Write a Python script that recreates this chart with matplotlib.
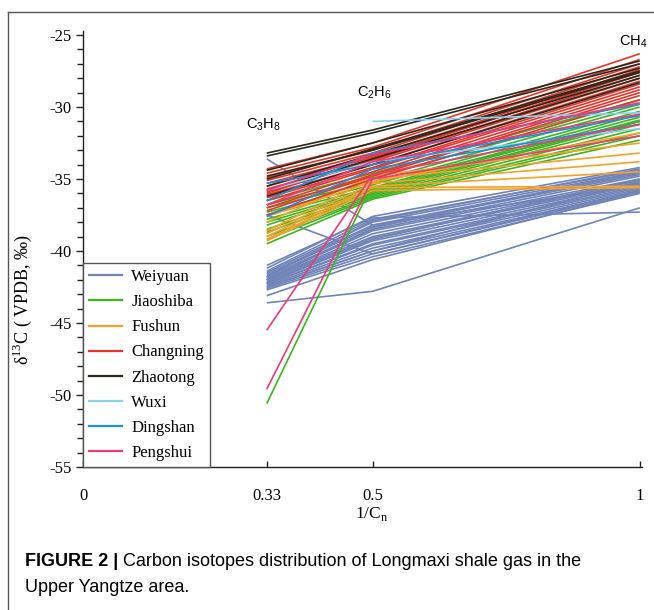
import numpy as np
import matplotlib
matplotlib.use("Agg")
import matplotlib.pyplot as plt
from matplotlib.lines import Line2D
from matplotlib.ticker import MultipleLocator

plt.rcParams['axes.unicode_minus'] = False

# x positions of the three gases (1/Cn) and their labels
xVals = [0.33, 0.5, 1.0]
xTicks = [0, 0.33, 0.5, 1]
xTickLabels = ['0', '0.33', '0.5', '1']

# delta13C values per field: C3H8, C2H6, CH4 (nan = not measured)
weiyuanC3 = [-41.2, -41.4, -41.5, -41.6, -41.7, -41.8, -41.9, -42.0, -42.0, -42.1, -42.2, -42.3, -42.3,
             -42.4, -42.5, -42.6, -42.7, -42.0, -41.8, -42.2, -43.1, -42.5, -33.6, -37.5, -43.6, -41.0]
weiyuanC2 = [-37.6, -37.8, -38.0, -38.2, -38.3, -38.5, -38.6, -38.8, -39.0, -39.1, -39.3, -39.5, -39.6,
             -39.8, -40.0, -40.2, -40.4, -38.4, -37.9, -39.2, -40.6, -40.0, -38.2, -40.2, -42.8, -37.7]
weiyuanC1 = [-34.2, -34.4, -34.5, -34.6, -34.7, -34.8, -35.0, -35.1, -35.2, -35.3, -35.4, -35.5, -35.6,
             -35.7, -35.8, -35.9, -36.0, -34.5, -34.3, -35.0, -35.9, -35.2, -35.4, -35.8, -37.0, -37.3]

jiaoshibaC3 = [-36.5, -36.8, -37.0, -37.3, -37.5, -37.8, -38.0, -38.2, -38.5, -38.7, -39.0, -39.2, -39.5, -50.6]
jiaoshibaC2 = [-34.6, -34.9, -35.2, -35.4, -35.6, -35.7, -35.8, -35.9, -36.0, -36.1, -36.2, -36.3, -36.4, -35.3]
jiaoshibaC1 = [-29.5, -29.8, -30.0, -30.3, -30.5, -30.7, -30.9, -31.0, -31.2, -31.5, -31.8, -32.0, -32.3, -31.0]

fushunC3 = [-38.6, -38.8, -39.0, -39.2, -39.3, -38.0, -37.6]
fushunC2 = [-35.0, -35.3, -35.5, -35.6, -35.8, -34.8, -35.2]
fushunC1 = [-33.2, -33.8, -34.5, -35.5, -35.6, -32.5, -31.8]

changningC3 = [-34.3, -34.6, -34.9, -35.1, -35.3, -35.5, -35.7, -35.9, -36.1, -36.3, -36.5, -36.8, -37.0, -37.2, -37.5, -36.0]
changningC2 = [-32.5, -32.8, -33.0, -33.2, -33.4, -33.5, -33.7, -33.8, -34.0, -34.2, -34.3, -34.5, -34.7, -34.8, -35.0, -33.6]
changningC1 = [-26.3, -26.7, -27.0, -27.2, -27.4, -27.6, -27.8, -28.0, -28.2, -28.4, -28.6, -28.8, -29.0, -29.2, -29.5, -27.5]

zhaotongC3 = [-33.2, -33.4, -34.4, -35.0, -35.5, -35.8, -36.2, -34.8]
zhaotongC2 = [-31.6, -31.8, -32.5, -32.9, -33.3, -33.6, -34.0, -33.0]
zhaotongC1 = [-26.8, -27.0, -27.3, -27.5, -27.8, -28.0, -28.3, -27.6]

wuxiC3 = [np.nan, -35.8]
wuxiC2 = [-31.0, -33.8]
wuxiC1 = [-30.4, -31.5]

dingshanC3 = [-35.3, -37.6, -36.5]
dingshanC2 = [-34.0, -34.3, -33.2]
dingshanC1 = [-30.6, -31.2, -29.8]

pengshuiC3 = [-45.5, -49.6, -35.8, -36.8]
pengshuiC2 = [-34.7, -35.0, -33.3, -33.8]
pengshuiC1 = [-31.2, -32.0, -29.7, -30.5]

fields = ['Weiyuan', 'Jiaoshiba', 'Fushun', 'Changning', 'Zhaotong', 'Wuxi', 'Dingshan', 'Pengshui']
fieldData = [
    (weiyuanC3, weiyuanC2, weiyuanC1),
    (jiaoshibaC3, jiaoshibaC2, jiaoshibaC1),
    (fushunC3, fushunC2, fushunC1),
    (changningC3, changningC2, changningC1),
    (zhaotongC3, zhaotongC2, zhaotongC1),
    (wuxiC3, wuxiC2, wuxiC1),
    (dingshanC3, dingshanC2, dingshanC1),
    (pengshuiC3, pengshuiC2, pengshuiC1),
]
colors = ['#7084b8', '#3db523', '#f5a12a', '#e5352b', '#2a2a1c', '#86d3ee', '#1f8fd6', '#ec3a7a']

# the original figure spaces 0.33 / 0.5 / 1 slightly unevenly
xTrue = [-1, 0, 0.33, 0.5, 1, 2]
xDraw = [-1, 0, 0.33, 0.52, 1, 2]


def fwd(x):
    return np.interp(x, xTrue, xDraw)


def inv(x):
    return np.interp(x, xDraw, xTrue)


serif = ['Liberation Serif', 'DejaVu Serif']
sans = ['Liberation Sans', 'DejaVu Sans']

fig = plt.figure(figsize=(6.54, 6.10), dpi=100)
ax = fig.add_axes([83 / 654, 1 - 467 / 610, 559 / 654, 436.3 / 610])
ax.set_xscale('function', functions=(fwd, inv))

for (c3, c2, c1), col in zip(fieldData, colors):
    for a, b, c in zip(c3, c2, c1):
        ax.plot(xVals, [a, b, c], color=col, linewidth=1.2, solid_capstyle='butt')

ax.set_xlim(0, 1.004)
ax.set_ylim(-55, -24.7)

for s in ['top', 'right']:
    ax.spines[s].set_visible(False)
for s in ['left', 'bottom']:
    ax.spines[s].set_linewidth(1.0)
    ax.spines[s].set_color('#222222')

ax.set_xticks(xTicks)
ax.set_xticklabels(xTickLabels, family=serif, fontsize=12)
ax.yaxis.set_major_locator(MultipleLocator(5))
ax.yaxis.set_minor_locator(MultipleLocator(1))
for lab in ax.get_yticklabels():
    lab.set_family(serif)
    lab.set_fontsize(12)
ax.tick_params(axis='x', direction='in', length=4, width=1.0, pad=15, color='#222222')
ax.tick_params(axis='y', which='major', direction='out', length=5, width=1.0, pad=3, color='#222222')
ax.tick_params(axis='y', which='minor', direction='out', length=4, width=1.0, color='#222222')

ax.set_xlabel('1/C$_{\\mathregular{n}}$', family=serif, fontsize=12.5)
ax.xaxis.set_label_coords(0.517, -0.088)
ax.set_ylabel('δ$^{\\mathregular{13}}$C ( VPDB, ‰)', family=serif, fontsize=13)
ax.yaxis.set_label_coords(-0.088, 0.383)

# gas labels above each column
ax.text(0.984, 0.975, 'CH$_{\\mathregular{4}}$', transform=ax.transAxes, ha='center', va='center',
        family=sans, fontsize=10.5)
ax.text(0.522, 0.858, 'C$_{\\mathregular{2}}$H$_{\\mathregular{6}}$', transform=ax.transAxes, ha='center',
        va='center', family=sans, fontsize=10.5)
ax.text(0.322, 0.784, 'C$_{\\mathregular{3}}$H$_{\\mathregular{8}}$', transform=ax.transAxes, ha='center',
        va='center', family=sans, fontsize=10.5)

handles = [Line2D([], [], color=c, linewidth=1.6) for c in colors]
leg = ax.legend(handles, fields, loc='lower left', bbox_to_anchor=(0, 0), borderaxespad=0,
                prop={'family': serif, 'size': 12}, handlelength=2.0, handletextpad=0.55,
                labelspacing=0.55, borderpad=0.35, fancybox=False, framealpha=1)
leg.get_frame().set_edgecolor('#555555')
leg.get_frame().set_linewidth(1.0)

# figure box (top and left edges)
fig.add_artist(Line2D([8 / 654, 1], [1 - 12 / 610, 1 - 12 / 610], color='#555555', linewidth=1.0))
fig.add_artist(Line2D([8 / 654, 8 / 654], [0, 1 - 12 / 610], color='#555555', linewidth=1.0))

# caption
capBold = fig.text(25 / 654, 1 - 561 / 610, 'FIGURE 2 |', family=sans, fontsize=13,
                   fontweight='bold', va='center', ha='left')
ax.annotate(' Carbon isotopes distribution of Longmaxi shale gas in the', xy=(1, 0.5),
            xycoords=capBold, va='center', ha='left', family=sans, fontsize=13)
fig.text(25 / 654, 1 - 588 / 610, 'Upper Yangtze area.', family=sans, fontsize=13, va='center', ha='left')

fig.savefig('out.png', dpi=100)
